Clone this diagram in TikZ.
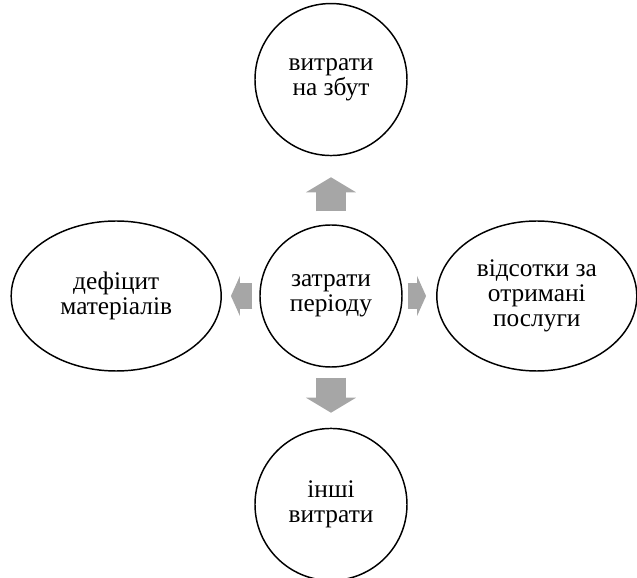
\documentclass[tikz,border=0pt]{standalone}
\usepackage{fontspec}
\setmainfont{Liberation Serif}
\usepackage{xcolor}
\usetikzlibrary{positioning, arrows.meta, shapes.geometric}
\definecolor{arrowgray}{HTML}{A6A6A6}

\begin{document}
\begin{tikzpicture}[
    topic/.style={circle, draw, line width=1.1pt, minimum size=114pt, inner sep=0pt, align=center, font=\fontsize{19}{19}\selectfont},
    side/.style={ellipse, draw, line width=1.1pt, minimum height=112.5pt, inner sep=0pt, align=center, font=\fontsize{19}{19}\selectfont},
    bigarrow/.style={draw=arrowgray, line width=22.5pt, -{Triangle[length=11.25pt, width=37.5pt, line width=0pt]}},
    sidearrow/.style={draw=arrowgray, line width=19.5pt, -{Triangle[length=6.75pt, width=30pt, line width=0pt]}}
]
\useasboundingbox (-248.25pt,-211.5pt) rectangle (229.5pt,222pt);

% Centre and the four costs round it
\node[topic, minimum size=106.5pt] (period) {затрати\\періоду};
\node[topic, above=51pt of period] (sales) {витрати\\на збут};
\node[topic, below=45pt of period] (other) {інші\\витрати};
\node[side, minimum width=157.5pt, left=28pt of period] (deficit) {дефіцит\\матеріалів};
\node[side, minimum width=150pt, right=25pt of period] (interest) {відсотки за\\отримані\\послуги};

% Block arrows
\draw[bigarrow, shorten <=9.75pt, shorten >=15.75pt] (period) -- (sales);
\draw[bigarrow, shorten <=7.5pt, shorten >=11.25pt] (period) -- (other);
\draw[sidearrow, shorten <=5.25pt, shorten >=6.75pt] (period) -- (deficit);
\draw[sidearrow, shorten <=3.75pt, shorten >=7.5pt] (period) -- (interest);
\end{tikzpicture}
\end{document}
